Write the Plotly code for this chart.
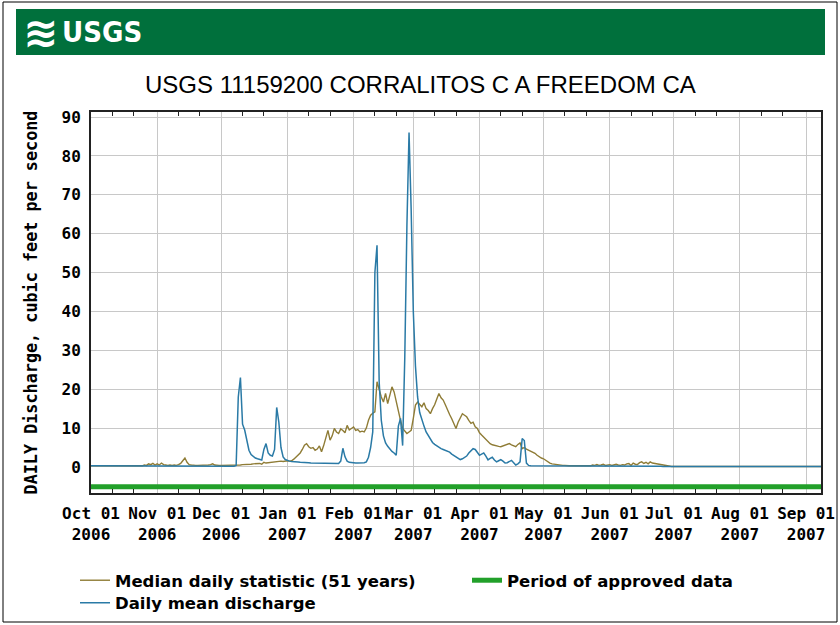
import plotly.graph_objects as go
import pandas as pd

# ---------------- data ----------------
start_date = "2006-10-01"

# Daily mean discharge (cfs), by month
mean_oct = [0.3, 0.3, 0.3, 0.2, 0.2, 0.2, 0.2, 0.2, 0.2, 0.2, 0.2, 0.2, 0.2, 0.2, 0.2, 0.2,
            0.2, 0.2, 0.2, 0.2, 0.2, 0.2, 0.2, 0.2, 0.2, 0.2, 0.2, 0.2, 0.2, 0.2, 0.2]
mean_nov = [0.2, 0.2, 0.2, 0.2, 0.2, 0.2, 0.2, 0.2, 0.2, 0.2, 0.2, 0.2, 0.2, 0.3, 0.3,
            0.2, 0.2, 0.2, 0.2, 0.2, 0.2, 0.2, 0.2, 0.2, 0.2, 0.2, 0.2, 0.2, 0.2, 0.2]
mean_dec = [0.2, 0.2, 0.2, 0.2, 0.2, 0.2, 0.2, 0.4, 18.0, 23.0, 11.0, 9.5, 6.5, 4.3, 3.2, 2.7,
            2.3, 2.1, 1.9, 1.8, 4.5, 6.0, 3.6, 3.0, 2.8, 4.5, 15.3, 11.5, 5.0, 2.6, 1.9]
mean_jan = [1.6, 1.5, 1.4, 1.4, 1.3, 1.3, 1.2, 1.2, 1.1, 1.1, 1.1, 1.0, 1.0, 1.0, 1.0, 1.0,
            1.0, 0.9, 0.9, 0.9, 0.9, 0.9, 0.9, 0.9, 0.9, 1.5, 4.8, 2.6, 1.5, 1.2, 1.1]
mean_feb = [1.1, 1.0, 1.0, 1.0, 1.0, 1.1, 1.3, 2.5, 5.0, 9.0, 50.0, 57.0, 22.0, 12.0, 8.0,
            6.2, 5.3, 4.5, 4.0, 3.6, 3.0, 10.5, 12.5, 5.5, 28.0, 62.0, 86.0, 66.0]
mean_mar = [40.0, 26.0, 18.0, 14.0, 12.0, 10.5, 9.0, 8.0, 7.0, 6.3, 5.8, 5.4, 5.0, 4.7, 4.5,
            4.3, 4.1, 3.8, 3.3, 3.0, 2.6, 2.2, 1.9, 2.1, 2.5, 2.8, 3.6, 4.3, 4.7, 4.5, 3.6]
mean_apr = [3.0, 3.3, 3.6, 2.8, 1.8, 2.2, 2.5, 1.8, 1.3, 1.6, 1.9, 1.5, 1.0, 1.1, 1.4, 1.7,
            1.1, 0.5, 0.8, 1.3, 7.3, 6.8, 1.0, 0.4, 0.3, 0.3, 0.2, 0.2, 0.2, 0.2]
mean_may = [0.2, 0.2, 0.2, 0.2, 0.2, 0.2, 0.2, 0.2, 0.2, 0.2, 0.2, 0.2, 0.2, 0.2, 0.2, 0.2,
            0.2, 0.2, 0.2, 0.2, 0.2, 0.2, 0.2, 0.2, 0.2, 0.2, 0.2, 0.2, 0.2, 0.2, 0.2]
mean_jun = [0.2, 0.2, 0.2, 0.2, 0.2, 0.2, 0.2, 0.2, 0.2, 0.2, 0.2, 0.2, 0.2, 0.2, 0.2,
            0.2, 0.2, 0.2, 0.2, 0.2, 0.2, 0.2, 0.2, 0.2, 0.2, 0.1, 0.1, 0.1, 0.1, 0.1]
mean_jul = [0.1, 0.1, 0.1, 0.1, 0.1, 0.1, 0.1, 0.1, 0.1, 0.1, 0.1, 0.1, 0.1, 0.1, 0.1, 0.1,
            0.1, 0.1, 0.1, 0.1, 0.1, 0.1, 0.1, 0.1, 0.1, 0.1, 0.1, 0.1, 0.1, 0.1, 0.1]
mean_aug = [0.1, 0.1, 0.1, 0.1, 0.1, 0.1, 0.1, 0.1, 0.1, 0.1, 0.1, 0.1, 0.1, 0.1, 0.1, 0.1,
            0.1, 0.1, 0.1, 0.1, 0.1, 0.1, 0.1, 0.1, 0.1, 0.1, 0.1, 0.1, 0.1, 0.1, 0.1]
mean_sep = [0.1, 0.1, 0.1, 0.1, 0.1, 0.1, 0.1, 0.1]

# Median daily statistic (51 years), by month
med_oct = [0.3, 0.3, 0.3, 0.3, 0.3, 0.3, 0.3, 0.3, 0.3, 0.3, 0.3, 0.3, 0.3, 0.3, 0.3, 0.3,
           0.3, 0.3, 0.3, 0.3, 0.3, 0.3, 0.3, 0.3, 0.3, 0.5, 0.4, 0.8, 0.6, 0.9, 0.5]
med_nov = [0.8, 0.5, 1.0, 0.6, 0.5, 0.4, 0.5, 0.4, 0.5, 0.4, 0.6, 0.9, 1.6, 2.3, 1.2,
           0.6, 0.5, 0.4, 0.4, 0.4, 0.4, 0.5, 0.4, 0.4, 0.5, 0.6, 0.8, 0.5, 0.4, 0.4]
med_dec = [0.4, 0.4, 0.4, 0.4, 0.4, 0.4, 0.4, 0.4, 0.5, 0.5, 0.6, 0.6, 0.7, 0.7, 0.7, 0.8,
           0.8, 0.9, 0.9, 0.7, 1.2, 1.0, 1.1, 1.2, 1.2, 1.3, 1.3, 1.4, 1.5, 1.4, 1.6]
med_jan = [1.6, 1.5, 1.6, 2.0, 2.6, 3.0, 3.6, 4.5, 5.6, 6.0, 5.2, 4.8, 5.0, 4.3, 4.6, 5.4,
           3.9, 5.5, 7.5, 9.4, 6.9, 8.0, 9.9, 9.0, 8.6, 9.8, 9.4, 8.8, 10.7, 9.5, 9.9]
med_feb = [10.3, 9.4, 9.6, 9.0, 9.2, 9.0, 10.0, 12.0, 13.3, 13.8, 14.2, 21.9, 19.7, 18.0,
           16.7, 18.9, 16.3, 18.5, 20.6, 19.3, 16.7, 14.5, 12.0, 9.9, 9.2, 8.6, 9.0, 9.4]
med_mar = [12.5, 15.9, 16.7, 16.2, 15.5, 16.5, 15.0, 14.5, 13.7, 15.0, 16.0, 17.5, 18.9, 17.8,
           17.2, 16.0, 14.6, 13.5, 12.4, 11.0, 9.9, 11.5, 12.8, 13.7, 13.3, 12.9, 12.0, 11.2,
           11.5, 10.3, 9.9]
med_apr = [8.8, 8.2, 7.6, 7.0, 6.4, 6.0, 5.7, 5.5, 5.3, 5.3, 5.2, 5.4, 5.6, 5.8, 6.0, 5.7,
           5.4, 5.2, 5.8, 6.2, 4.7, 5.0, 4.6, 4.3, 4.1, 3.9, 3.5, 3.0, 2.6, 2.3]
med_may = [2.1, 1.7, 1.3, 1.0, 0.8, 0.7, 0.6, 0.5, 0.4, 0.4, 0.4, 0.3, 0.3, 0.3, 0.3, 0.3,
           0.3, 0.3, 0.3, 0.3, 0.3, 0.3, 0.3, 0.5, 0.4, 0.6, 0.4, 0.5, 0.7, 0.4, 0.5]
med_jun = [0.6, 0.4, 0.5, 0.7, 0.5, 0.4, 0.6, 0.5, 0.8, 0.9, 0.4, 1.0, 0.7, 0.6, 1.1,
           1.3, 0.9, 1.2, 0.8, 1.3, 1.0, 0.9, 0.7, 0.6, 0.5, 0.4, 0.3, 0.2, 0.2, 0.1]
med_jul = [0.1, 0.1, 0.1, 0.1, 0.1, 0.1, 0.1, 0.1, 0.1, 0.1, 0.1, 0.1, 0.1, 0.1, 0.1, 0.1,
           0.1, 0.1, 0.1, 0.1, 0.1, 0.1, 0.1, 0.1, 0.1, 0.1, 0.1, 0.1, 0.1, 0.1, 0.1]
med_aug = [0.1, 0.1, 0.1, 0.1, 0.1, 0.1, 0.1, 0.1, 0.1, 0.1, 0.1, 0.1, 0.1, 0.1, 0.1, 0.1,
           0.1, 0.1, 0.1, 0.1, 0.1, 0.1, 0.1, 0.1, 0.1, 0.1, 0.1, 0.1, 0.1, 0.1, 0.1]
med_sep = [0.1, 0.1, 0.1, 0.1, 0.1, 0.1, 0.1, 0.1]

# Period of approved data
approved_dates = ["2006-10-01", "2007-09-08"]
approved_level = [-5.1, -5.1]

# Axis ticks
month_ticks = ["2006-10-01", "2006-11-01", "2006-12-01", "2007-01-01", "2007-02-01",
               "2007-03-01", "2007-04-01", "2007-05-01", "2007-06-01", "2007-07-01",
               "2007-08-01", "2007-09-01"]
tick_labels = ["Oct 01<br>2006", "Nov 01<br>2006", "Dec 01<br>2006", "Jan 01<br>2007",
               "Feb 01<br>2007", "Mar 01<br>2007", "Apr 01<br>2007", "May 01<br>2007",
               "Jun 01<br>2007", "Jul 01<br>2007", "Aug 01<br>2007", "Sep 01<br>2007"]
y_ticks = [0, 10, 20, 30, 40, 50, 60, 70, 80, 90]

# ---------------- assemble ----------------
discharge = (mean_oct + mean_nov + mean_dec + mean_jan + mean_feb + mean_mar + mean_apr +
             mean_may + mean_jun + mean_jul + mean_aug + mean_sep)
median = (med_oct + med_nov + med_dec + med_jan + med_feb + med_mar + med_apr +
          med_may + med_jun + med_jul + med_aug + med_sep)
dates = pd.date_range(start_date, periods=len(discharge), freq="D")

minor_ticks = [m[:8] + d for m in month_ticks for d in ("11", "21")]

W, H = 840, 625
L, R, T, B = 91, 821, 112, 493


def px(x):
    return (x - L) / (R - L)


def py(y):
    return (B - y) / (B - T)


MONO = "DejaVu Sans Mono"
BLUE = "#2a7aa6"
OLIVE = "#8f7c36"
GREEN = "#22a02a"

fig = go.Figure()
fig.add_trace(go.Scatter(x=dates, y=median, mode="lines", name="Median daily statistic (51 years)",
                         line=dict(color=OLIVE, width=1.4), legend="legend", legendwidth=347))
fig.add_trace(go.Scatter(x=dates, y=discharge, mode="lines", name="Daily mean discharge",
                         line=dict(color=BLUE, width=1.5), legend="legend2"))
fig.add_trace(go.Scatter(x=pd.to_datetime(approved_dates), y=approved_level, mode="lines",
                         name="Period of approved data", line=dict(color=GREEN, width=5),
                         legend="legend", legendwidth=250))

tickfont = dict(family=MONO, size=16, color="black", weight="bold")
legfont = dict(family="DejaVu Sans", size=16.5, color="black", weight="bold")

fig.update_layout(
    width=W, height=H,
    margin=dict(l=L, r=W - R, t=T, b=H - B, autoexpand=False),
    paper_bgcolor="white", plot_bgcolor="white",
    showlegend=True,
    xaxis=dict(type="date", range=["2006-10-01", "2007-09-08"],
               tickmode="array", tickvals=month_ticks, ticktext=tick_labels,
               tickfont=tickfont, tickangle=0, ticks="", ticklabelstandoff=5,
               showgrid=True, gridcolor="#c8c8c8", gridwidth=1,
               showline=True, linecolor="#222222", linewidth=2, mirror="ticks",
               minor=dict(tickmode="array", tickvals=minor_ticks, ticks="inside",
                          ticklen=4, tickwidth=1, tickcolor="#222222", showgrid=False),
               zeroline=False),
    yaxis=dict(range=[-6.7, 91.3], tickmode="array", tickvals=y_ticks,
               tickfont=tickfont, ticks="", ticklabelstandoff=5,
               showgrid=True, gridcolor="#c8c8c8", gridwidth=1,
               showline=True, linecolor="#222222", linewidth=2, mirror=True,
               zeroline=False,
               title=dict(text="DAILY Discharge, cubic feet per second",
                          font=dict(family=MONO, size=16.8, color="black", weight="bold"),
                          standoff=20)),
    legend=dict(orientation="h", x=px(75), y=py(580.5), xanchor="left", yanchor="middle",
                font=legfont, bgcolor="rgba(0,0,0,0)", traceorder="normal"),
    legend2=dict(orientation="h", x=px(75), y=py(603), xanchor="left", yanchor="middle",
                 font=legfont, bgcolor="rgba(0,0,0,0)"),
    shapes=[
        dict(type="rect", xref="paper", yref="paper", x0=px(3), x1=px(837), y0=py(622), y1=py(2),
             line=dict(color="black", width=1), fillcolor="rgba(0,0,0,0)", layer="below"),
        dict(type="rect", xref="paper", yref="paper", x0=px(16), x1=px(825), y0=py(55), y1=py(9),
             line=dict(width=0), fillcolor="#00703c", layer="below"),
    ],
    annotations=[
        dict(text="≋", xref="paper", yref="paper", x=px(40), y=py(32), xanchor="center",
             yanchor="middle", showarrow=False,
             font=dict(family="DejaVu Sans", size=42, color="white", weight="bold")),
        dict(text="USGS", xref="paper", yref="paper", x=px(60), y=py(32), xanchor="left",
             yanchor="middle", showarrow=False,
             font=dict(family="Liberation Sans Narrow, DejaVu Sans Condensed, Liberation Sans",
                       size=29, color="white", weight="bold")),
        dict(text="USGS 11159200 CORRALITOS C A FREEDOM CA", xref="paper", yref="paper",
             x=px(420), y=py(84), xanchor="center", yanchor="middle", showarrow=False,
             font=dict(family="Liberation Sans, Arial, sans-serif", size=24, color="black")),
    ],
)

fig.write_html("out.html", config={"displayModeBar": False},
               post_script="document.body.style.margin='0px';")
